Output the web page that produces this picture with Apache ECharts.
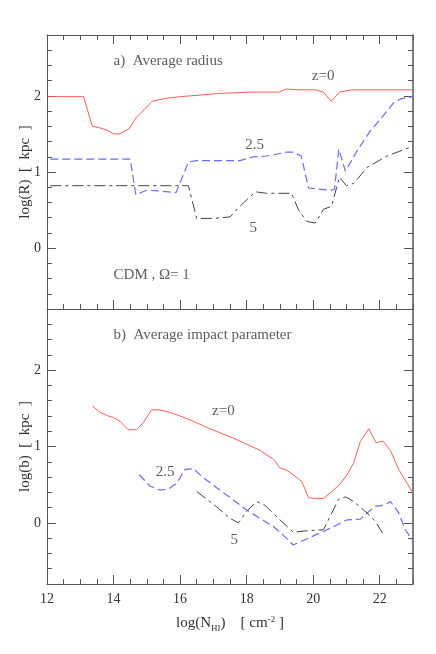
<!DOCTYPE html>
<html>
<head>
<meta charset="utf-8">
<script src="https://cdn.jsdelivr.net/npm/echarts@6/dist/echarts.min.js"></script>
<style>
  html, body { margin: 0; padding: 0; background: #fff; }
  #chart { width: 436px; height: 654px; }
</style>
</head>
<body>
<div id="chart"></div>
<script>
// log(N_HI) vs log(size), pairs are [x, y]
const radiusZ0 = [[12.05,1.99],[13.1,1.99],[13.36,1.60],[13.59,1.58],[13.8,1.55],[14.0,1.50],[14.19,1.50],[14.47,1.57],[14.69,1.72],[14.92,1.82],[15.16,1.93],[15.6,1.97],[16.0,1.99],[16.6,2.01],[17.1,2.03],[17.6,2.04],[18.1,2.05],[18.99,2.05],[19.18,2.09],[19.6,2.08],[20.06,2.08],[20.31,2.05],[20.54,1.93],[20.79,2.05],[21.17,2.08],[23.0,2.08]];
const radiusZ25 = [[12.1,1.17],[14.5,1.17],[14.67,0.70],[14.99,0.76],[15.39,0.75],[15.88,0.73],[16.25,1.13],[16.5,1.15],[17.5,1.15],[17.8,1.15],[18.2,1.20],[18.6,1.21],[19.2,1.26],[19.4,1.26],[19.64,1.21],[19.86,0.79],[20.06,0.78],[20.5,0.76],[20.64,0.77],[20.77,1.30],[20.97,1.01],[21.32,1.28],[21.72,1.54],[22.07,1.72],[22.42,1.91],[22.62,1.96],[23.0,1.99]];
const radiusZ5 = [[12.1,0.82],[16.25,0.82],[16.5,0.39],[17.0,0.39],[17.5,0.41],[17.8,0.55],[18.26,0.74],[18.6,0.72],[19.35,0.72],[19.55,0.51],[19.81,0.35],[20.06,0.33],[20.31,0.51],[20.55,0.55],[20.79,0.93],[21.0,0.82],[21.22,0.85],[21.62,1.06],[22.22,1.21],[23.0,1.34]];

const impactZ0 = [[13.36,1.53],[13.59,1.45],[13.84,1.40],[14.0,1.38],[14.19,1.33],[14.44,1.22],[14.69,1.22],[14.91,1.32],[15.14,1.48],[15.34,1.48],[15.6,1.46],[16.0,1.40],[16.4,1.33],[16.8,1.25],[17.2,1.18],[17.6,1.11],[18.0,1.03],[18.4,0.95],[18.81,0.83],[19.0,0.72],[19.2,0.69],[19.4,0.63],[19.66,0.54],[19.86,0.33],[20.06,0.32],[20.31,0.32],[20.56,0.41],[20.81,0.51],[21.02,0.63],[21.22,0.79],[21.42,1.07],[21.67,1.23],[21.89,1.05],[22.1,1.07],[22.32,0.95],[22.57,0.70],[22.82,0.52],[23.0,0.39]];
const impactZ25 = [[14.77,0.63],[15.1,0.48],[15.39,0.43],[15.64,0.44],[15.9,0.52],[16.15,0.70],[16.4,0.71],[16.7,0.59],[17.1,0.46],[17.6,0.30],[18.0,0.17],[18.4,0.06],[18.81,-0.05],[19.1,-0.16],[19.4,-0.29],[19.8,-0.21],[20.21,-0.13],[20.61,-0.05],[21.02,0.04],[21.42,0.05],[21.62,0.13],[21.87,0.22],[22.12,0.23],[22.32,0.28],[22.57,0.13],[22.77,-0.09],[23.0,-0.24]];
const impactZ5 = [[16.5,0.41],[17.1,0.21],[17.5,0.06],[17.75,0.00],[18.0,0.15],[18.3,0.28],[18.55,0.23],[19.0,0.04],[19.4,-0.12],[19.91,-0.10],[20.31,-0.09],[20.56,0.13],[20.76,0.31],[20.97,0.34],[21.22,0.28],[21.62,0.13],[21.87,0.02],[22.12,-0.16]];

// text annotations in data coordinates: [x, y, text, align]
const notesTop = [[14.0,2.46,'a)  Average radius','left'],[20.3,2.26,'z=0','center'],[18.24,1.36,'2.5','center'],[18.2,0.26,'5','center'],[14.0,-0.35,'CDM , Ω= 1','left']];
const notesBottom = [[14.0,2.46,'b)  Average impact parameter','left'],[17.3,1.46,'z=0','center'],[15.55,0.66,'2.5','center'],[17.63,-0.23,'5','center']];

const xTicks = [12, 14, 16, 18, 20, 22];
const yTicks = [0, 1, 2];

const FONT = 'Liberation Serif';
const INK = '#555';

const chart = echarts.init(document.getElementById('chart'));

function xAxisPair(grid, position, withLabels) {
  const base = { type: 'value', gridIndex: grid, position, min: 12, max: 23, splitLine: { show: false } };
  return [
    Object.assign({}, base, {
      interval: 0.5,
      axisLine: { show: true, onZero: false, lineStyle: { color: INK, width: 1 } },
      axisTick: { inside: true, length: 5, lineStyle: { color: INK } },
      axisLabel: { show: false },
    }),
    Object.assign({}, base, {
      axisLine: { show: false, onZero: false },
      axisTick: { inside: true, length: 9, customValues: xTicks, lineStyle: { color: INK } },
      axisLabel: withLabels
        ? { show: true, customValues: xTicks, fontFamily: FONT, fontSize: 14, color: '#333', margin: 8 }
        : { show: false },
      name: withLabels ? '{t|log(N}{s|HI}{t|)    [ cm}{p|-2}{t| ]}' : '',
      nameLocation: 'middle',
      nameGap: 30,
      nameMoveOverlap: false,
      nameTextStyle: {
        rich: {
          t: { fontFamily: FONT, fontSize: 15, color: '#333' },
          s: { fontFamily: FONT, fontSize: 9, color: '#333', padding: [10, 0, 0, 0] },
          p: { fontFamily: FONT, fontSize: 9, color: '#333', padding: [0, 0, 8, 0] },
        },
      },
    }),
  ];
}

function yAxisPair(grid, position, title) {
  const base = { type: 'value', gridIndex: grid, position, min: -0.8, max: 2.8, splitLine: { show: false } };
  return [
    Object.assign({}, base, {
      interval: 0.2,
      axisLine: { show: true, onZero: false, lineStyle: { color: INK, width: position === 'right' ? 1.5 : 1 } },
      axisTick: { inside: true, length: 5, lineStyle: { color: INK } },
      axisLabel: { show: false },
    }),
    Object.assign({}, base, {
      axisLine: { show: false, onZero: false },
      axisTick: { inside: true, length: 9, customValues: yTicks, lineStyle: { color: INK } },
      axisLabel: title
        ? { show: true, customValues: yTicks, fontFamily: FONT, fontSize: 14, color: '#333', margin: 6 }
        : { show: false },
      name: title || '',
      nameLocation: 'middle',
      nameGap: 14,
      nameMoveOverlap: false,
      nameTextStyle: { fontFamily: FONT, fontSize: 15, color: '#333' },
    }),
  ];
}

function line(data, x, y, color, type, width) {
  return {
    type: 'line', data, xAxisIndex: x, yAxisIndex: y, showSymbol: false, symbol: 'none',
    silent: true, animation: false,
    lineStyle: { color, width, type },
  };
}

function notes(rows, x, y) {
  return {
    type: 'scatter', xAxisIndex: x, yAxisIndex: y, symbolSize: 0, silent: true, animation: false,
    data: rows.map(r => ({ value: [r[0], r[1]], label: { align: r[3] }, text: r[2] })),
    label: {
      show: true, position: 'inside', distance: 0, verticalAlign: 'middle',
      fontFamily: FONT, fontSize: 15, color: '#333',
      formatter: p => p.data.text,
    },
  };
}

const xAxes = [].concat(
  xAxisPair(0, 'bottom', false),  // 0,1
  xAxisPair(0, 'top', false),     // 2,3
  xAxisPair(1, 'bottom', true)    // 4,5
);
const yAxes = [].concat(
  yAxisPair(0, 'left', 'log(R)  [  kpc  ]'),  // 0,1
  yAxisPair(0, 'right', null),                 // 2,3
  yAxisPair(1, 'left', 'log(b)  [  kpc  ]'),  // 4,5
  yAxisPair(1, 'right', null)                  // 6,7
);

const RED = '#ff5c5c';
const BLUE = '#6b6bff';
const DARK = '#444';

chart.setOption({
  backgroundColor: '#fff',
  animation: false,
  grid: [
    { left: 47, right: 23, top: 35, height: 274 },
    { left: 47, right: 23, top: 309, height: 275 },
  ],
  xAxis: xAxes,
  yAxis: yAxes,
  series: [
    line(radiusZ0, 0, 0, RED, 'solid', 1),
    line(radiusZ25, 0, 0, BLUE, [8, 4], 1.2),
    line(radiusZ5, 0, 0, DARK, [11, 4, 3, 4], 1),
    line(impactZ0, 4, 4, RED, 'solid', 1),
    line(impactZ25, 4, 4, BLUE, [8, 4], 1.2),
    line(impactZ5, 4, 4, DARK, [11, 4, 3, 4], 1),
    notes(notesTop, 0, 0),
    notes(notesBottom, 4, 4),
  ],
});
</script>
</body>
</html>
